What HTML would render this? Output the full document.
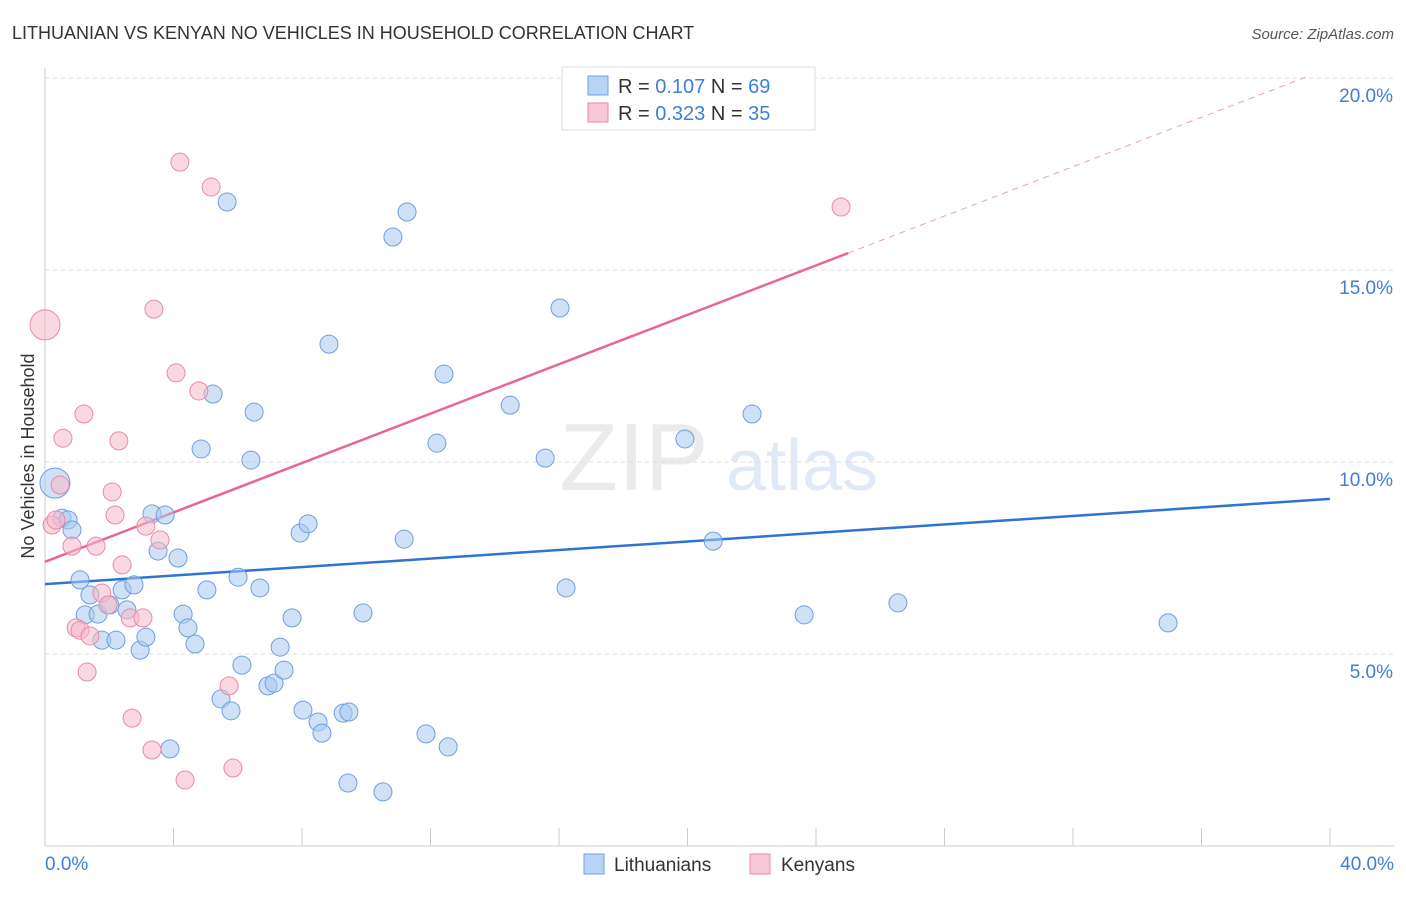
<!DOCTYPE html>
<html><head><meta charset="utf-8"><style>
body{margin:0;background:#fff;font-family:"Liberation Sans",sans-serif;}
svg text{font-family:"Liberation Sans",sans-serif;}
</style></head><body>
<svg id="chart" width="1406" height="892" viewBox="0 0 1406 892" xmlns="http://www.w3.org/2000/svg">
<text x="12" y="39" font-size="18" fill="#333">LITHUANIAN VS KENYAN NO VEHICLES IN HOUSEHOLD CORRELATION CHART</text>
<text x="1394" y="39" font-size="15" fill="#555" text-anchor="end" font-style="italic">Source: ZipAtlas.com</text>
<g opacity="0.35">
<text x="634" y="490" font-size="96" font-family="Liberation Serif" fill="#c8c8c8" text-anchor="middle">ZIP</text>
<text x="802" y="490" font-size="72" fill="#a8c4ea" text-anchor="middle">atlas</text>
</g>
<text transform="translate(34,456) rotate(-90)" font-size="18" fill="#333" text-anchor="middle">No Vehicles in Household</text>
<g id="grid"></g><g id="axes"></g><g id="lines"></g><g id="points"></g>
<g>
<rect x="562" y="67" width="253" height="63" fill="#fff" stroke="#ddd"/>
<rect x="588" y="76" width="20" height="19" fill="#b9d3f4" stroke="#6f9fe0"/>
<text x="618" y="93" font-size="20" fill="#333">R = <tspan fill="#3f7fd6">0.107</tspan>   N = <tspan fill="#3f7fd6">69</tspan></text>
<rect x="588" y="103" width="20" height="19" fill="#f9c8d7" stroke="#e88aa8"/>
<text x="618" y="120" font-size="20" fill="#333">R = <tspan fill="#3f7fd6">0.323</tspan>   N = <tspan fill="#3f7fd6">35</tspan></text>
</g>
<g>
<rect x="584" y="854" width="20" height="20" fill="#b9d3f4" stroke="#6f9fe0"/>
<text x="614" y="871" font-size="19" fill="#333">Lithuanians</text>
<rect x="750" y="854" width="20" height="20" fill="#f9c8d7" stroke="#e88aa8"/>
<text x="781" y="871" font-size="19" fill="#333">Kenyans</text>
</g>
</svg>
<script>
const blueX=[0.31,0.53,0.72,0.84,1.09,1.25,1.40,1.65,1.77,2.02,2.21,2.40,2.55,2.77,2.96,3.14,3.33,3.52,3.74,4.14,3.89,4.30,4.45,4.67,4.86,5.04,5.23,5.48,5.67,5.79,6.01,6.13,6.41,6.51,6.69,6.94,7.13,7.32,7.44,7.69,7.94,8.03,8.19,8.50,8.62,8.84,9.28,9.46,9.43,9.90,10.52,10.83,11.18,11.27,11.86,12.20,12.42,12.55,14.48,15.57,16.03,16.22,19.92,20.80,22.01,23.63,26.55,34.96];
const blueY=[9.45,8.54,8.49,8.23,6.93,6.02,6.54,6.04,5.36,6.28,5.36,6.67,6.15,6.80,5.10,5.44,8.65,7.68,8.62,7.50,2.53,6.04,5.68,5.26,10.34,6.67,11.77,3.83,16.77,3.52,7.00,4.71,10.05,11.30,6.72,4.17,4.24,5.18,4.58,5.94,8.15,3.54,8.39,3.23,2.94,13.07,3.46,3.49,1.64,6.07,1.41,15.86,7.99,16.51,2.92,10.49,12.29,2.58,11.48,10.10,14.01,6.72,10.60,7.94,11.25,6.02,6.33,5.81];
const pinkX=[0,0.22,0.34,0.47,0.56,0.84,0.97,1.09,1.21,1.31,1.40,1.59,1.77,1.96,2.09,2.18,2.30,2.40,2.65,2.71,3.05,3.14,3.33,3.39,3.58,4.08,4.20,4.36,4.79,5.17,5.73,5.85,24.78];
const pinkY=[13.57,8.36,8.49,9.40,10.62,7.81,5.68,5.62,11.25,4.53,5.47,7.81,6.59,6.28,9.22,8.62,10.55,7.32,5.94,3.33,5.94,8.33,2.50,13.98,7.97,12.32,17.81,1.72,11.85,17.16,4.17,2.03,16.64];
const blueBig=[0], pinkBig=[0];
const blueTrend=[6.82,9.04];
const pinkTrend=[7.40,0.3216];
const yTicks=[5,10,15,20];
const xTicks=[0,4,8,12,16,20,24,28,32,36,40];
const NS="http://www.w3.org/2000/svg";
const sx=v=>45+v/40*1285, sy=v=>846-v/5*192;
function mk(t,a,p){const e=document.createElementNS(NS,t);for(const k in a)e.setAttribute(k,a[k]);p.appendChild(e);return e;}
const grid=document.getElementById('grid'),axes=document.getElementById('axes'),lines=document.getElementById('lines'),pts=document.getElementById('points');
yTicks.forEach(v=>{
 const l=mk('line',{x1:45,x2:1394,y1:sy(v),y2:sy(v),stroke:'#ddd','stroke-dasharray':'4,4'},grid);
 
 
 const t=mk('text',{x:1393,y:sy(v)+24,'font-size':19,fill:'#3f7fd6','text-anchor':'end'},axes);t.textContent=v.toFixed(1)+'%';
 
 
});
const xa=mk('line',{x1:45,x2:1394,y1:846,y2:846,stroke:'#ccc'},axes);


const ya=mk('line',{x1:45,x2:45,y1:68,y2:846,stroke:'#ccc'},axes);


xTicks.forEach(v=>{const t=mk('line',{x1:sx(v),x2:sx(v),y1:828,y2:846,stroke:'#ccc'},axes);
 
 });
[[0,'start',45],[40,'end',1394]].forEach(([v,a,x])=>{const t=mk('text',{x:x,y:870,'font-size':19,fill:'#3f7fd6','text-anchor':a},axes);t.textContent=v.toFixed(1)+'%';
 
 });
const bl=mk('line',{x1:sx(0),y1:sy(blueTrend[0]),x2:sx(40),y2:sy(blueTrend[1]),stroke:'#2f74d0','stroke-width':2.5},lines);


const pe=v=>pinkTrend[0]+pinkTrend[1]*v;
const pl=mk('line',{x1:sx(0),y1:sy(pe(0)),x2:sx(25),y2:sy(pe(25)),stroke:'#e8668f','stroke-width':2.5},lines);


const pd=mk('line',{x1:sx(25),y1:sy(pe(25)),x2:sx(39.3),y2:sy(pe(39.3)),stroke:'#e8a0b8','stroke-width':1,'stroke-dasharray':'6,5'},lines);


function draw(X,Y,big,fill,stroke,name){X.forEach((x,i)=>{const c=mk('circle',{cx:sx(x),cy:sy(Y[i]),r:big.includes(i)?15:9,fill:fill,'fill-opacity':0.55,stroke:stroke,'stroke-width':1},pts);
 
 });}
draw(blueX,blueY,blueBig,'#a9c8f0','#6f9fe0','lithuanian-point');
draw(pinkX,pinkY,pinkBig,'#f6b8cb','#e88aa8','kenyan-point');
</script>
</body></html>
